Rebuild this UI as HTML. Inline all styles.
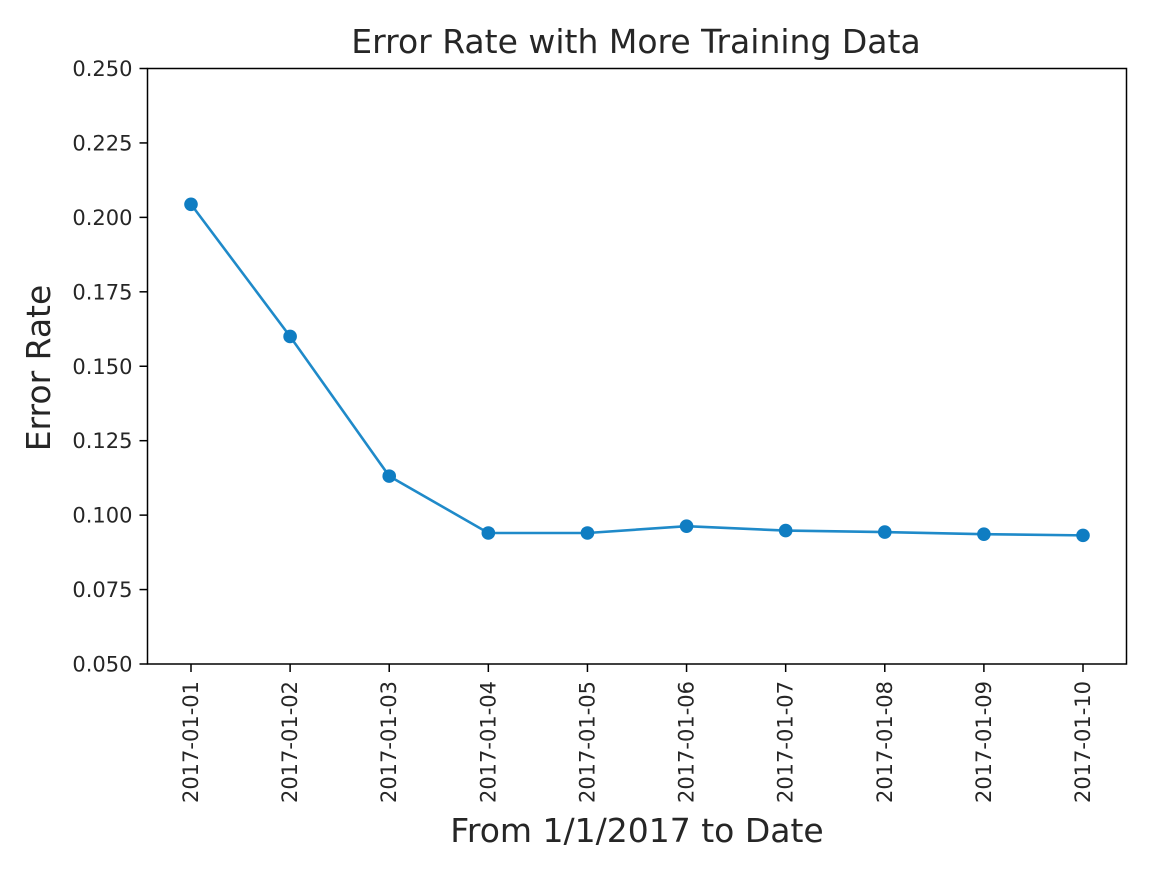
<!DOCTYPE html>
<html><head><meta charset="utf-8"><style>
body{margin:0;background:#fff;}
svg text{font-family:"DejaVu Sans","Liberation Sans",sans-serif;fill:#262626;}
</style></head><body>
<svg id="chart" width="1152" height="876" viewBox="0 0 1152 876" xmlns="http://www.w3.org/2000/svg">
<text x="636" y="53" font-size="33" text-anchor="middle">Error Rate with More Training Data</text>
<text transform="translate(50,368) rotate(-90)" font-size="33" text-anchor="middle">Error Rate</text>
<text x="637" y="842" font-size="33" text-anchor="middle">From 1/1/2017 to Date</text>
<g id="marks"></g>
<rect x="147.5" y="68.5" width="979" height="595.5" fill="none" stroke="#000" stroke-width="1.5"/>
</svg>
<script>
const categories=["2017-01-01","2017-01-02","2017-01-03","2017-01-04","2017-01-05","2017-01-06","2017-01-07","2017-01-08","2017-01-09","2017-01-10"];
const errorRates=[0.2044,0.1600,0.1131,0.0940,0.0940,0.0963,0.0948,0.0943,0.0936,0.0932];
const yTicks=[0.050,0.075,0.100,0.125,0.150,0.175,0.200,0.225,0.250];
const NS="http://www.w3.org/2000/svg";
const L=147.5,R=1126.5,T=68.5,B=664,ymin=0.05,ymax=0.25;
const x0=191,step=(1083-191)/9;
function xs(i){return x0+i*step;}
function ys(v){return B-(v-ymin)/(ymax-ymin)*(B-T);}
const g=document.getElementById('marks');
function mk(t,a){const e=document.createElementNS(NS,t);for(const k in a)e.setAttribute(k,a[k]);g.appendChild(e);return e;}
yTicks.forEach(v=>{
  const y=ys(v);
  const tk=mk('line',{x1:L-8,x2:L,y1:y,y2:y,stroke:'#000','stroke-width':1.5});
  
  
  const t=mk('text',{x:L-15,y:y+7.5,'font-size':21,'text-anchor':'end'});
  t.textContent=v.toFixed(3);
  
  
});
categories.forEach((c,i)=>{
  const x=xs(i);
  const tk=mk('line',{x1:x,x2:x,y1:B,y2:B+8,stroke:'#000','stroke-width':1.5});
  
  
  const t=mk('text',{transform:`translate(${x+7},${B+17}) rotate(-90)`,'font-size':21,'text-anchor':'end'});
  t.textContent=c;
  
  
});
const pl=mk('polyline',{points:errorRates.map((v,i)=>xs(i)+','+ys(v)).join(' '),fill:'none',stroke:'#1f8ac9','stroke-width':2.6});


errorRates.forEach((v,i)=>{
  const c=mk('circle',{cx:xs(i),cy:ys(v),r:6.8,fill:'#0f7dc2'});
  
  
});
</script>
</body></html>
